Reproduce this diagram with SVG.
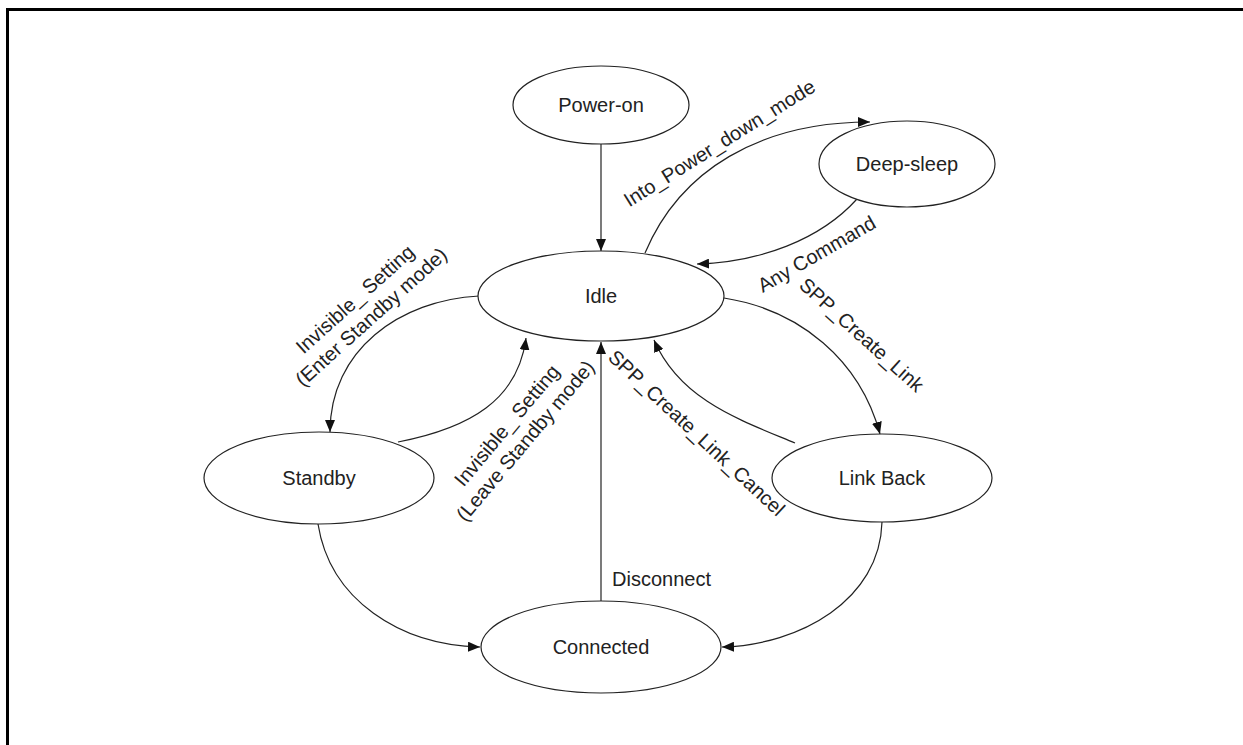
<svg xmlns="http://www.w3.org/2000/svg" width="1243" height="745" viewBox="0 0 1243 745">
<defs>
<style>
.node ellipse{fill:#fff;stroke:#222;stroke-width:1.2}
.node text,.lbl{font-family:"Liberation Sans",Arial,sans-serif;font-size:20px;fill:#222}
.node text{text-anchor:middle;dominant-baseline:central}
.lbl{text-anchor:middle}
.edges path{fill:none;stroke:#222;stroke-width:1.2;marker-end:url(#arr)}
</style>
<marker id="arr" viewBox="0 0 12 10" refX="12" refY="5" markerWidth="12" markerHeight="10" markerUnits="userSpaceOnUse" orient="auto">
<path d="M0,0 L12,5 L0,10 Z" fill="#111"/>
</marker>
</defs>
<rect width="1243" height="745" fill="#fff"/>
<path d="M7.5,745 V9.5 H1243" fill="none" stroke="#000" stroke-width="3"/>
<g class="edges">
<path d="M601,144 V251"/>
<path d="M645,253 C680,170 760,122 870,122"/>
<path d="M857,199 C820,240 760,262 697,264"/>
<path d="M724,298 C800,310 860,360 880,434"/>
<path d="M795,443 C740,420 680,400 654,340"/>
<path d="M479,296 C400,300 330,350 330,432"/>
<path d="M398,442 C470,428 518,400 526,338"/>
<path d="M601,601 V342"/>
<path d="M318,524 C330,600 400,645 480,647"/>
<path d="M882,522 C880,600 800,645 722,647"/>
</g>
<g id="power-on" class="node"><ellipse cx="601" cy="105" rx="88" ry="39"/><text x="601" y="105">Power-on</text></g>
<g id="deep-sleep" class="node"><ellipse cx="907" cy="164" rx="88" ry="43"/><text x="907" y="164">Deep-sleep</text></g>
<g id="idle" class="node"><ellipse cx="601" cy="296" rx="123" ry="45"/><text x="601" y="296">Idle</text></g>
<g id="standby" class="node"><ellipse cx="319" cy="478" rx="115" ry="46"/><text x="319" y="478">Standby</text></g>
<g id="link-back" class="node"><ellipse cx="882" cy="478" rx="110" ry="44"/><text x="882" y="478">Link Back</text></g>
<g id="connected" class="node"><ellipse cx="601" cy="647" rx="120" ry="46"/><text x="601" y="647">Connected</text></g>
<g id="labels">
<text class="lbl" transform="translate(723,149) rotate(-32)">Into_Power_down_mode</text>
<text class="lbl" transform="translate(820,260) rotate(-30)">Any Command</text>
<text class="lbl" transform="translate(857,340) rotate(42)">SPP_Create_Link</text>
<text class="lbl" transform="translate(692,438) rotate(43)">SPP_Create_Link_Cancel</text>
<text class="lbl" transform="translate(363,308) rotate(-42)"><tspan x="0" y="-5">Invisible_ Setting</tspan><tspan x="0" y="19">(Enter Standby mode)</tspan></text>
<text class="lbl" transform="translate(516,433) rotate(-50)"><tspan x="0" y="-5">Invisible_ Setting</tspan><tspan x="0" y="19">(Leave Standby mode)</tspan></text>
<text class="lbl" x="612" y="586" style="text-anchor:start">Disconnect</text>
</g>
</svg>
